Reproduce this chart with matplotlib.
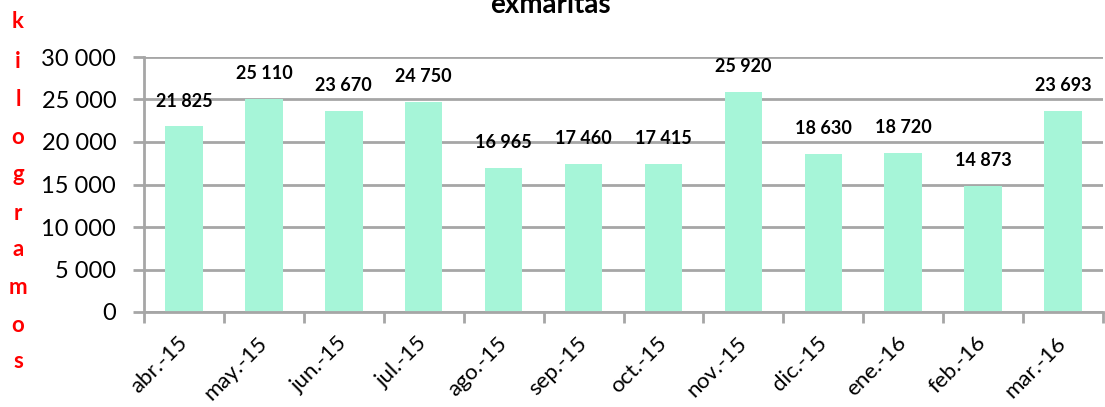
import matplotlib
matplotlib.use("Agg")
import matplotlib.pyplot as plt
from matplotlib.ticker import FuncFormatter, FixedLocator

categories = ["abr.-15", "may.-15", "jun.-15", "jul.-15", "ago.-15", "sep.-15",
              "oct.-15", "nov.-15", "dic.-15", "ene.-16", "feb.-16", "mar.-16"]
values = [21825, 25110, 23670, 24750, 16965, 17460, 17415, 25920, 18630, 18720, 14873, 23693]
yticks = [0, 5000, 10000, 15000, 20000, 25000, 30000]
title = "exmaritas"
ylabel = "kilogramos"

W, H = 1105, 407
fig = plt.figure(figsize=(W / 100, H / 100), dpi=100)
ax = fig.add_axes([144 / W, 1 - 312 / H, (1103 - 144) / W, (312 - 57) / H])

font = "Lato"
grid_c = "#a6a6a6"
x = list(range(len(categories)))
ax.bar(x, values, width=0.47, color="#a6f5d8", zorder=2)
ax.set_xlim(-0.5, len(categories) - 0.5)
ax.set_ylim(0, 30000)
ax.set_yticks(yticks)
ax.yaxis.set_major_formatter(FuncFormatter(lambda v, p: f"{int(v):,}".replace(",", " ")))
ax.grid(axis="y", color=grid_c, linewidth=2, zorder=0)
for s in ["top", "right"]:
    ax.spines[s].set_visible(False)
ax.spines["left"].set_color(grid_c)
ax.spines["left"].set_linewidth(2)
ax.spines["bottom"].set_color(grid_c)
ax.spines["bottom"].set_linewidth(2)

ax.xaxis.set_major_locator(FixedLocator([i - 0.5 for i in range(len(categories) + 1)]))
ax.set_xticklabels([])
ax.xaxis.set_minor_locator(FixedLocator(x))
ax.set_xticklabels(categories, minor=True, rotation=45, ha="right", va="center",
                   rotation_mode="anchor", fontsize=16, family=font)
ax.tick_params(axis="x", which="minor", length=0, pad=20)
ax.tick_params(axis="x", which="major", length=8, width=2, color=grid_c, direction="out")
ax.tick_params(axis="y", length=8, width=2, color=grid_c, labelsize=17, pad=12)
for t in ax.get_yticklabels():
    t.set_family(font)

for xi, v in zip(x, values):
    ax.annotate(f"{v:,}".replace(",", " "), (xi, v), xytext=(0, 12), textcoords="offset points",
                ha="center", va="bottom", fontsize=13, fontweight="bold", family=font)

fig.text(550 / W, 1 - 13 / H, title, ha="center", va="baseline", fontsize=20,
         fontweight="bold", family=font)

ys = [22, 62, 100, 137, 175, 213, 250, 288, 326, 362]
for ch, yy in zip(ylabel, ys):
    fig.text(18 / W, 1 - yy / H, ch, ha="center", va="center", color="#ff0000",
             fontsize=16, fontweight="bold", family=font)

fig.savefig("out.png", dpi=100)
